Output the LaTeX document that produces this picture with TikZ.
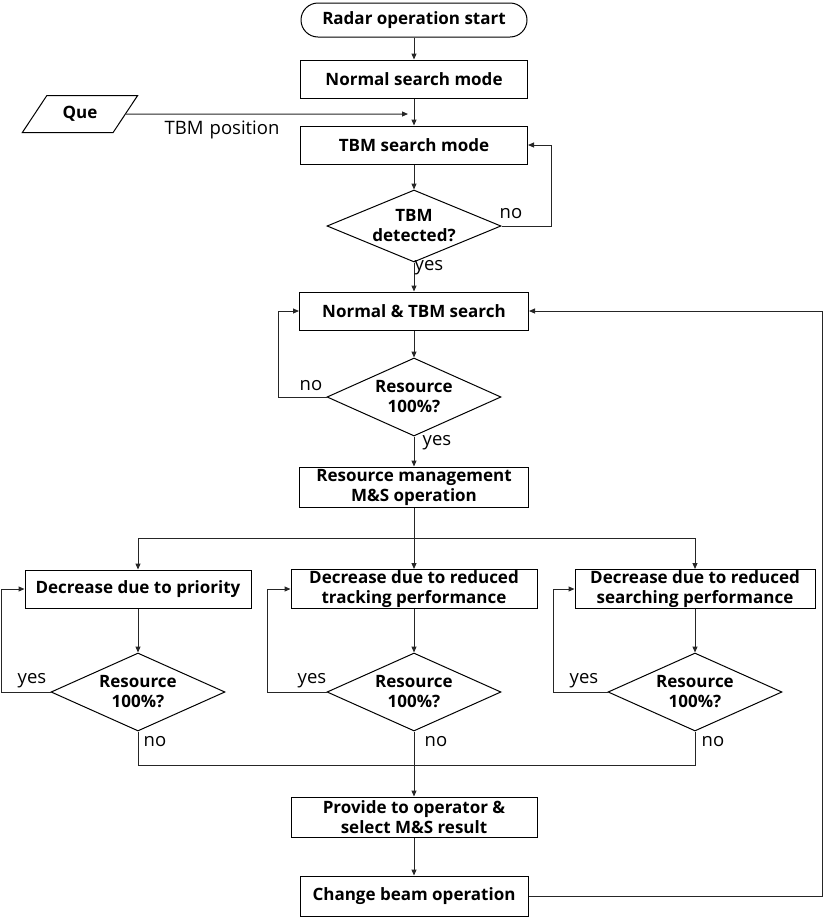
\documentclass[tikz,border=0pt]{standalone}
\usepackage{fontspec}
\setmainfont{Open Sans}
\usetikzlibrary{shapes.geometric, arrows.meta}

\begin{document}
\begin{tikzpicture}[x=1pt, y=-1pt,
  line/.style = {line width=1pt, black!85},
  arr/.style = {line, -{Triangle[length=6pt, width=5pt]}},
  box/.style = {draw, line width=1pt, minimum height=38, inner sep=1pt, align=center, font=\fontsize{17}{20}\selectfont\bfseries},
  terminal/.style = {box, rounded corners=17, minimum height=34},
  decision/.style = {draw, diamond, aspect=2.3, line width=1pt, minimum width=174, minimum height=78, inner sep=0pt, align=center, font=\fontsize{17}{20}\selectfont\bfseries},
  inbox/.style = {draw, trapezium, trapezium left angle=55, trapezium right angle=125, trapezium stretches=true, line width=1pt, minimum width=116, minimum height=37, font=\fontsize{17}{20}\selectfont\bfseries},
  lbl/.style = {font=\fontsize{18.5}{20}\selectfont, inner sep=0pt}]
\useasboundingbox (0,0) rectangle (827,919);

% upper part
\path (414,20) node[terminal, minimum width=226] (start) {Radar operation start};
\path (414,79) node[box, minimum width=227] (normal) {Normal search mode};
\path (80,114) node[inbox] (que) {Que};
\path (414,145) node[box, minimum width=227] (tbm) {TBM search mode};
\path (414,226) node[decision, minimum height=72] (detect) {TBM\\detected?};
\path (414,311) node[box, minimum width=229] (both) {Normal \& TBM search};
\path (414,397) node[decision] (res) {Resource\\100\%?};
\path (414,487) node[box, minimum width=229, minimum height=40] (manage) {Resource management\\M\&S operation};

% three ways to decrease
\path (138,589) node[box, minimum width=226] (prio) {Decrease due to priority};
\path (414,589) node[box, minimum width=246] (track) {Decrease due to reduced\\tracking performance};
\path (695,589) node[box, minimum width=240] (srch) {Decrease due to reduced\\searching performance};
\path (138,692) node[decision] (resA) {Resource\\100\%?};
\path (414,692) node[decision] (resB) {Resource\\100\%?};
\path (695,692) node[decision] (resC) {Resource\\100\%?};

% lower part
\path (414,817) node[box, minimum width=246, minimum height=40] (provide) {Provide to operator \&\\select M\&S result};
\path (414,896) node[box, minimum width=228, minimum height=40] (beam) {Change beam operation};

\coordinate (quein) at (408,114);
\coordinate (noloop) at (551,226);
\coordinate (resloop) at (278,397);
\coordinate (split) at (414,538);
\coordinate (merge) at (414,765);
\coordinate (back) at (822,311);

\draw[arr] (start) -- (normal);
\draw[arr] (normal) -- (tbm);
\draw[arr] (que) -- (quein);
\path (222,130) node[lbl] (tbmpos) {TBM\,\,position};
\draw[arr] (tbm) -- (detect);
\draw[arr] (detect.east) -- (noloop) |- (tbm.east);
\draw[arr] (detect) -- (both);
\draw[arr] (both) -- (res);
\draw[arr] (res.west) -- (resloop) |- (both.west);
\draw[arr] (res) -- (manage);
\draw[arr] (manage) -- (track);
\draw[arr] (split) -| (prio);
\draw[arr] (split) -| (srch);
\draw[arr] (prio) -- (resA);
\draw[arr] (track) -- (resB);
\draw[arr] (srch) -- (resC);
\draw[arr] (resA.west) -- ++(-49,0) |- (prio.west);
\draw[arr] (resB.west) -- ++(-59,0) |- (track.west);
\draw[arr] (resC.west) -- ++(-54,0) |- (srch.west);
\draw[line] (resA.south) |- (merge);
\draw[line] (resC.south) |- (merge);
\draw[arr] (resB) -- (provide);
\draw[arr] (provide) -- (beam);
\draw[arr] (beam.east) -| (back) -- (both.east);

% yes / no
\path (511,214) node[lbl] (detno) {no};
\path (429,268) node[lbl] (detyes) {yes};
\path (311,386) node[lbl] (resno) {no};
\path (437,443) node[lbl] (resyes) {yes};
\path (32,681) node[lbl] (yesA) {yes};
\path (155,742) node[lbl] (noA) {no};
\path (312,681) node[lbl] (yesB) {yes};
\path (436,742) node[lbl] (noB) {no};
\path (584,681) node[lbl] (yesC) {yes};
\path (713,742) node[lbl] (noC) {no};
\end{tikzpicture}
\end{document}
